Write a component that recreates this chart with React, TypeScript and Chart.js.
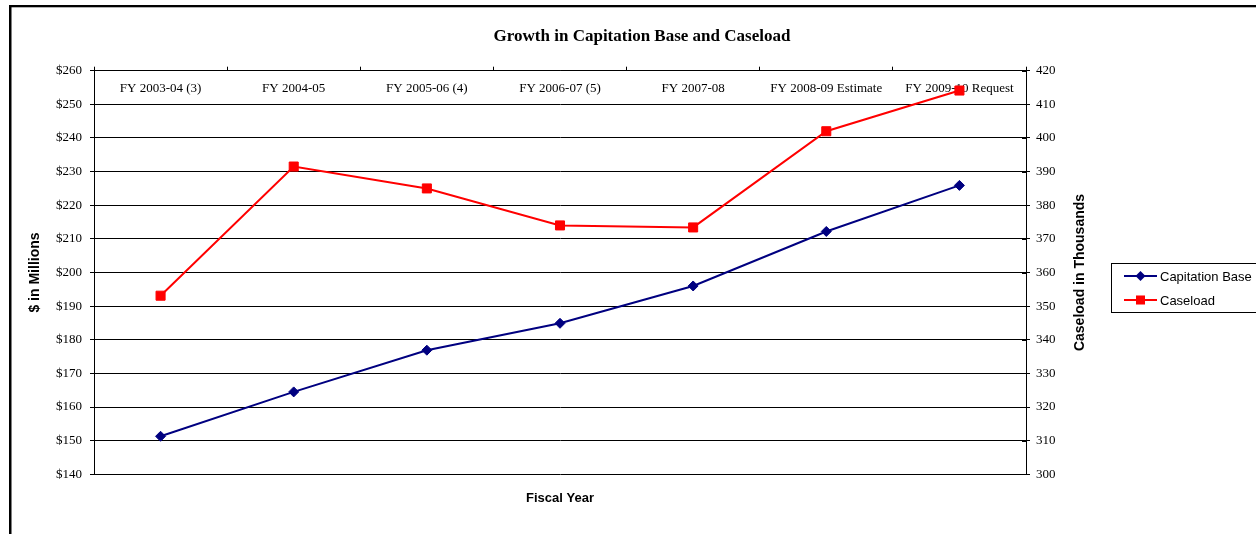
import React, { useEffect, useRef } from "react";
import { Chart, registerables } from "chart.js";

Chart.register(...registerables);

const categories = [
  "FY 2003-04 (3)",
  "FY 2004-05",
  "FY 2005-06 (4)",
  "FY 2006-07 (5)",
  "FY 2007-08",
  "FY 2008-09 Estimate",
  "FY 2009-10 Request",
];
const capitationBase = [151.3, 164.5, 176.9, 184.9, 196.0, 212.2, 225.9];
const caseload = [353.1, 391.5, 385.0, 374.0, 373.4, 402.0, 414.1];
const leftTicksRange = [140, 260];
const rightTicksRange = [300, 420];
const chartTitle = "Growth in Capitation Base and Caseload";
const leftAxisTitle = "$ in Millions";
const rightAxisTitle = "Caseload in Thousands";
const xAxisTitle = "Fiscal Year";

const SERIF = "'Liberation Serif', 'Times New Roman', serif";
const SANS = "'Liberation Sans', Arial, sans-serif";

const decorPlugin = {
  id: "decor",
  beforeDatasetsDraw(chart: any) {
    const { ctx, chartArea } = chart;
    const x = chart.scales.x;
    ctx.save();
    ctx.fillStyle = "#000";
    ctx.font = `13px ${SERIF}`;
    ctx.textAlign = "center";
    ctx.textBaseline = "middle";
    categories.forEach((c, i) => {
      ctx.fillText(c, x.getPixelForValue(i), chartArea.top + 17.5);
    });
    ctx.restore();
  },
  afterDraw(chart: any) {
    const { ctx, chartArea } = chart;
    ctx.save();
    // outer frame (left and top edges visible)
    ctx.fillStyle = "#000";
    ctx.fillRect(9, 5, 2.5, 600);
    ctx.fillRect(9, 5, 1400, 2.3);

    // inward ticks on right axis
    const y1 = chart.scales.y1;
    ctx.strokeStyle = "#000";
    ctx.lineWidth = 1;
    y1.ticks.forEach((t: any) => {
      const py = Math.round(y1.getPixelForValue(t.value)) + 0.5;
      ctx.beginPath();
      ctx.moveTo(chartArea.right - 4, py);
      ctx.lineTo(chartArea.right, py);
      ctx.stroke();
    });

    // title
    ctx.fillStyle = "#000";
    ctx.font = `bold 17px ${SERIF}`;
    ctx.textAlign = "center";
    ctx.textBaseline = "middle";
    ctx.fillText(chartTitle, 642, 37);

    // axis titles
    ctx.font = `bold 14px ${SANS}`;
    const midY = (chartArea.top + chartArea.bottom) / 2;
    ctx.save();
    ctx.translate(35, midY);
    ctx.rotate(-Math.PI / 2);
    ctx.fillText(leftAxisTitle, 0, 0);
    ctx.restore();
    ctx.save();
    ctx.translate(1080, midY);
    ctx.rotate(-Math.PI / 2);
    ctx.fillText(rightAxisTitle, 0, 0);
    ctx.restore();
    ctx.font = `bold 13px ${SANS}`;
    ctx.fillText(xAxisTitle, (chartArea.left + chartArea.right) / 2, 498);

    // legend
    ctx.strokeStyle = "#000";
    ctx.lineWidth = 1;
    ctx.strokeRect(1111.5, 263.5, 200, 49);
    const rows = [276, 300];
    chart.data.datasets.forEach((ds: any, i: number) => {
      const y = rows[i];
      ctx.strokeStyle = ds.borderColor;
      ctx.lineWidth = 2;
      ctx.beginPath();
      ctx.moveTo(1124, y);
      ctx.lineTo(1157, y);
      ctx.stroke();
      ctx.fillStyle = ds.backgroundColor;
      ctx.lineWidth = 1;
      ctx.beginPath();
      if (ds.pointStyle === "rectRot") {
        const r = ds.pointRadius;
        ctx.moveTo(1140.5, y - r);
        ctx.lineTo(1140.5 + r, y);
        ctx.lineTo(1140.5, y + r);
        ctx.lineTo(1140.5 - r, y);
        ctx.closePath();
      } else {
        const h = ds.pointRadius * Math.SQRT1_2;
        ctx.rect(1140.5 - h, y - h, 2 * h, 2 * h);
      }
      ctx.fill();
      ctx.fillStyle = "#000";
      ctx.font = `13px ${SANS}`;
      ctx.textAlign = "left";
      ctx.textBaseline = "middle";
      ctx.fillText(ds.label, 1160, y + 1);
    });
    ctx.restore();
  },
};

export default function App() {
  const ref = useRef<HTMLCanvasElement>(null);
  useEffect(() => {
    if (!ref.current) return;
    const chart = new Chart(ref.current, {
      type: "line",
      data: {
        labels: categories,
        datasets: [
          {
            label: "Capitation Base",
            data: capitationBase,
            yAxisID: "y",
            borderColor: "#000080",
            backgroundColor: "#000080",
            borderWidth: 2,
            pointStyle: "rectRot",
            pointRadius: 5,
            pointBorderWidth: 1,
            tension: 0,
          },
          {
            label: "Caseload",
            data: caseload,
            yAxisID: "y1",
            borderColor: "#FF0000",
            backgroundColor: "#FF0000",
            borderWidth: 2,
            pointStyle: "rect",
            pointRadius: 6.4,
            pointBorderWidth: 1,
            tension: 0,
          },
        ],
      },
      options: {
        animation: false,
        responsive: false,
        devicePixelRatio: 1,
        layout: { padding: { left: 0, right: 0, top: 66.7, bottom: 59.7 } },
        plugins: {
          legend: { display: false },
          title: { display: false },
          tooltip: { enabled: false },
        },
        scales: {
          x: {
            type: "category",
            position: "top",
            offset: true,
            grid: {
              display: true,
              drawOnChartArea: false,
              drawTicks: true,
              tickLength: 4,
              color: "#000",
              offset: true,
            },
            border: { display: true, color: "#000" },
            ticks: { display: false },
            afterFit(scale: any) {
              scale.height = 4;
            },
          },
          y: {
            position: "left",
            min: leftTicksRange[0],
            max: leftTicksRange[1],
            ticks: {
              stepSize: 10,
              color: "#000",
              padding: 8,
              font: { family: SERIF, size: 13 },
              callback: (v: any) => "$" + v,
            },
            grid: { color: "#000", tickLength: 4, lineWidth: 1 },
            border: { display: true, color: "#000" },
            afterFit(scale: any) {
              scale.width = 94;
            },
          },
          y1: {
            position: "right",
            min: rightTicksRange[0],
            max: rightTicksRange[1],
            ticks: {
              stepSize: 10,
              color: "#000",
              padding: 6,
              font: { family: SERIF, size: 13 },
            },
            grid: { drawOnChartArea: false, color: "#000", tickLength: 4 },
            border: { display: true, color: "#000" },
            afterFit(scale: any) {
              scale.width = 230;
            },
          },
        },
      },
      plugins: [decorPlugin],
    });
    return () => chart.destroy();
  }, []);
  return (
    <div style={{ position: "absolute", left: 0, top: 0, width: 1256, height: 534, background: "#fff" }}>
      <canvas ref={ref} width={1256} height={534} />
    </div>
  );
}
